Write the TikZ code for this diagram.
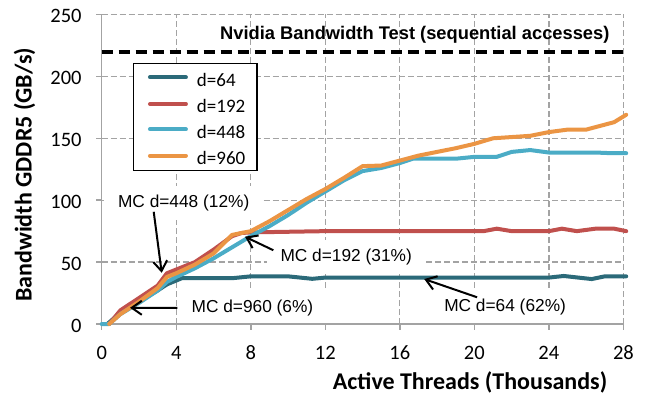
\documentclass[tikz,border=0pt]{standalone}
\usepackage{fontspec}
\setmainfont{Liberation Sans}
\newfontfamily\calibri{Carlito}
\usepackage{tikz}
\usetikzlibrary{arrows.meta}

\definecolor{c64}{HTML}{2B6A79}
\definecolor{c192}{HTML}{C0504D}
\definecolor{c448}{HTML}{4BACC6}
\definecolor{c960}{HTML}{EB9544}
\definecolor{gris}{HTML}{A3A3A3}

\begin{document}
\begin{tikzpicture}[
    x=18.63pt, y=1.238pt,
    every node/.style={inner sep=0pt},
    >={Straight Barb[length=10pt,width=14pt]},
    rejilla/.style={gris, line width=1.3pt, dash pattern=on 6pt off 3pt},
    eje/.style={gris, line width=1.5pt},
    marca/.style={font=\calibri\fontsize{20.5}{24}\selectfont},
    titulo/.style={font=\calibri\bfseries\fontsize{24}{28}\selectfont},
    leyendatxt/.style={font=\calibri\fontsize{19}{22}\selectfont},
    etiqueta/.style={fill=white, inner xsep=14pt, inner ysep=9pt,
        font=\fontsize{17.3}{20}\selectfont},
    curva/.style={line width=4pt, line join=round, line cap=round},
    flecha/.style={->, line width=2pt}
]
\useasboundingbox (-5.46,-57.35) rectangle (29.32,261.7);

% Rejilla
\draw[rejilla] (4,0) -- (4,250);
\draw[rejilla] (8,0) -- (8,250);
\draw[rejilla] (12,0) -- (12,250);
\draw[rejilla] (16,0) -- (16,250);
\draw[rejilla] (20,0) -- (20,250);
\draw[rejilla] (24,0) -- (24,250);
\draw[rejilla] (28,0) -- (28,250);
\draw[rejilla] (0,50) -- (28,50);
\draw[rejilla] (0,100) -- (28,100);
\draw[rejilla] (0,150) -- (28,150);
\draw[rejilla] (0,200) -- (28,200);
\draw[rejilla] (0,250) -- (28,250);

% Etiquetas
\node[etiqueta, anchor=base] (a448) at (4.40,94.3) {MC d=448 (12\%)};
\node[etiqueta, anchor=base] (a960) at (8.09,9.45) {MC d=960 (6\%)};
\node[etiqueta, anchor=base] (a192) at (13.12,50.3) {MC d=192 (31\%)};
\node[etiqueta, anchor=base, inner ysep=11pt] (a64) at (21.65,9.9)
    {MC d=64 (62\%)};

% Ejes y marcas
\draw[eje] (0,250) -- (0,0) -- (28,0);
\draw[eje] (-0.3,0) -- (0,0) (-0.3,50) -- (0,50) (-0.3,100) -- (0,100)
    (-0.3,150) -- (0,150) (-0.3,200) -- (0,200) (-0.3,250) -- (0,250);
\draw[eje] (0,-4.8) -- (0,0) (4,-4.8) -- (4,0) (8,-4.8) -- (8,0)
    (12,-4.8) -- (12,0) (16,-4.8) -- (16,0) (20,-4.8) -- (20,0)
    (24,-4.8) -- (24,0) (28,-4.8) -- (28,0);

% Valores de los ejes
\node[marca, anchor=east] (y0) at (-1.07,-1.5) {0};
\node[marca, anchor=east] (y50) at (-1.07,48.5) {50};
\node[marca, anchor=east] (y100) at (-1.07,98.5) {100};
\node[marca, anchor=east] (y150) at (-1.07,148.5) {150};
\node[marca, anchor=east] (y200) at (-1.07,198.5) {200};
\node[marca, anchor=east] (y250) at (-1.07,248.5) {250};
\node[marca, anchor=base] (x0) at (0,-28.3) {0};
\node[marca, anchor=base] (x4) at (4,-28.3) {4};
\node[marca, anchor=base] (x8) at (8,-28.3) {8};
\node[marca, anchor=base] (x12) at (12,-28.3) {12};
\node[marca, anchor=base] (x16) at (16,-28.3) {16};
\node[marca, anchor=base] (x20) at (20,-28.3) {20};
\node[marca, anchor=base] (x24) at (24,-28.3) {24};
\node[marca, anchor=base] (x28) at (28,-28.3) {28};

% Titulos
\node[titulo, anchor=base] (tx) at (19.77,-52.5)
    {Active Threads (Thousands)};
\node[titulo, anchor=base, rotate=90] (ty) at (-3.76,120.4)
    {Bandwidth GDDR5 (GB/s)};

% Limite de Nvidia
\draw[line width=4pt, dash pattern=on 11pt off 6pt] (0,220) -- (28,220);
\node[anchor=base west, font=\bfseries\fontsize{18.3}{22}\selectfont]
    (nvidia) at (6.35,229.4) {Nvidia Bandwidth Test (sequential accesses)};

% Curvas
\draw[curva, c64] (0.3,0) -- (1,9) -- (2,18) -- (3,27) -- (3.5,32)
    -- (4.3,37) -- (7,37) -- (8,38.5) -- (10,38.5) -- (11.3,36.5)
    -- (12,37.5) -- (24,37.5) -- (24.8,38.8) -- (26.3,36.3) -- (27,38.5)
    -- (28.15,38.5);
\draw[curva, c192] (0.4,0) -- (1,11) -- (2,21) -- (3,31) -- (3.5,41)
    -- (5,50) -- (6,60) -- (7,71) -- (7.5,73.5) -- (8,74) -- (10,74.5)
    -- (12,75) -- (20.5,75) -- (21.2,77) -- (22,75) -- (24,75)
    -- (24.7,77) -- (25.5,75) -- (26.5,77) -- (27.5,77) -- (28.15,75);
\draw[curva, c448] (0,0) -- (0.4,0) -- (1,8) -- (2,17) -- (3,27)
    -- (3.5,34) -- (4,38) -- (5,45) -- (6,53) -- (7,62) -- (8,71)
    -- (9,79) -- (10,88) -- (11,98) -- (12,107) -- (13,116)
    -- (14,123.5) -- (15,126) -- (16,130) -- (16.7,133.5) -- (19,133.5)
    -- (20,135) -- (21.2,135) -- (22,139) -- (23,140.5) -- (24,138.5)
    -- (26.5,138.5) -- (27.3,138) -- (28.15,138);
\draw[curva, c960] (0.4,0) -- (1,8) -- (2,18) -- (3,29) -- (3.5,38)
    -- (4,41) -- (5,48) -- (6,57) -- (7,72) -- (8,75) -- (9,83)
    -- (10,92) -- (11,101) -- (12,109) -- (13,118) -- (14,127.5)
    -- (15,128) -- (16,132) -- (17,136) -- (18,139) -- (19,142)
    -- (20,145.5) -- (21,150) -- (22,151) -- (23,152) -- (24,155)
    -- (25,157) -- (26,157) -- (27,161) -- (27.5,163) -- (28.15,169);

% Flechas
\coordinate (p448) at (3.22,41.4);
\coordinate (p960) at (1.52,13.1);
\coordinate (p192) at (7.69,70.5);
\coordinate (p64) at (17.31,36.3);
\draw[flecha] ([xshift=-30pt,yshift=-9pt]a448.center) -- (p448);
\draw[flecha] (a960.west) -- (p960);
\draw[flecha] ([xshift=7pt,yshift=7pt]a192.west) -- (p192);
\draw[flecha] ([xshift=-28pt,yshift=10pt]a64.center) -- (p64);

% Leyenda
\node[draw, line width=1.3pt, fill=white, minimum width=123.7pt,
    minimum height=107.4pt] (leyenda) at (5.02,167.2) {};
\draw[curva, c64] (2.59,199.3) -- (4.52,199.3);
\draw[curva, c192] (2.59,177.7) -- (4.52,177.7);
\draw[curva, c448] (2.59,157.3) -- (4.52,157.3);
\draw[curva, c960] (2.59,135.9) -- (4.52,135.9);
\node[leyendatxt, anchor=base west] (l64) at (5.10,192.2) {d=64};
\node[leyendatxt, anchor=base west] (l192) at (5.10,170.7) {d=192};
\node[leyendatxt, anchor=base west] (l448) at (5.10,150.2) {d=448};
\node[leyendatxt, anchor=base west] (l960) at (5.10,128.9) {d=960};

\end{tikzpicture}
\end{document}
